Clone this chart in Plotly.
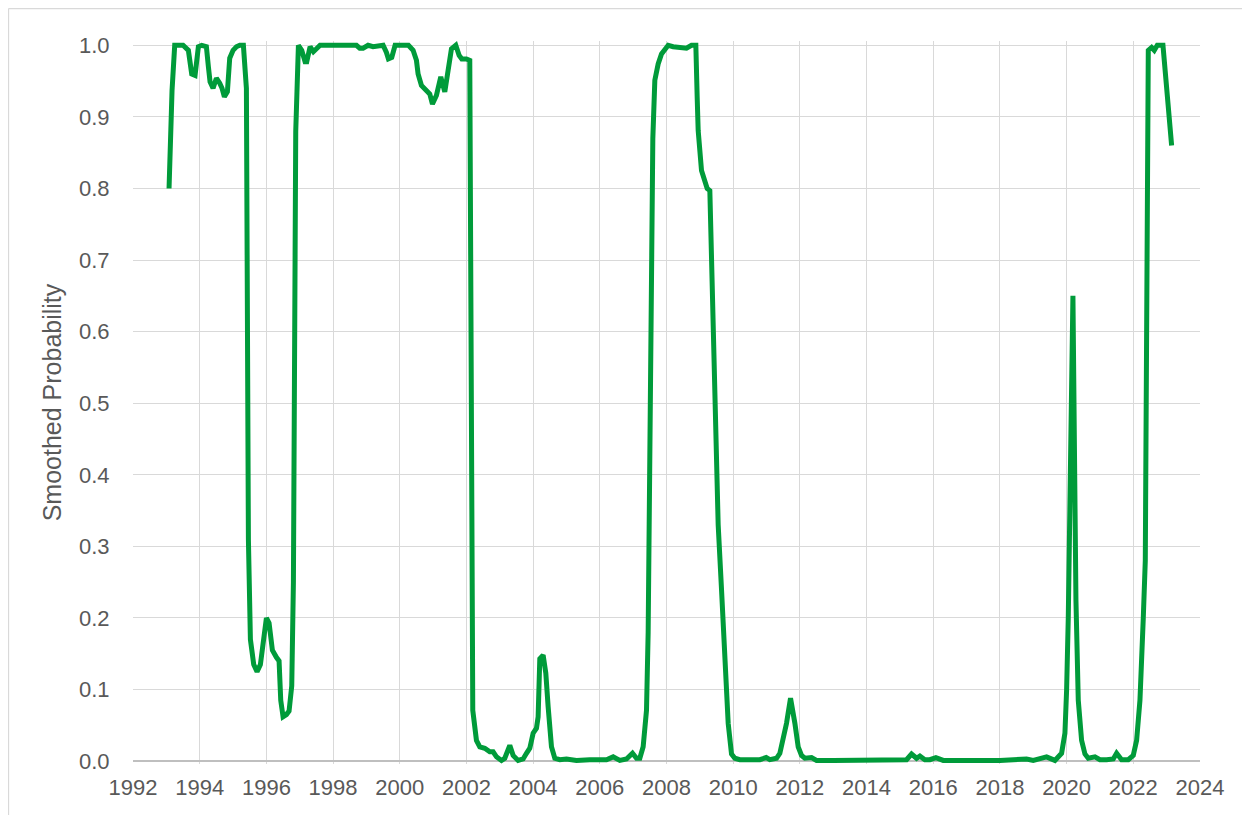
import plotly.graph_objects as go

# Decimal-year positions and smoothed probability values
dates = [
    1993.08, 1993.17, 1993.25, 1993.50, 1993.66, 1993.71, 1993.76, 1993.86, 1993.96,
    1994.06, 1994.20, 1994.26, 1994.31, 1994.40, 1994.50, 1994.60, 1994.67, 1994.74,
    1994.83, 1994.90, 1995.00, 1995.10, 1995.20, 1995.31, 1995.40, 1995.46, 1995.52,
    1995.62, 1995.72, 1995.82, 1995.95, 1996.00, 1996.08, 1996.18, 1996.30, 1996.38,
    1996.43, 1996.50, 1996.60, 1996.68, 1996.76, 1996.81, 1996.88, 1996.96,
    1997.06, 1997.16, 1997.21, 1997.31, 1997.41, 1997.50, 1997.61, 1998.70, 1998.80,
    1998.90, 1999.05, 1999.20, 1999.36, 1999.50, 1999.60, 1999.66, 1999.76, 1999.86,
    2000.26, 2000.40, 2000.50, 2000.55, 2000.65, 2000.80, 2000.90, 2000.98, 2001.10,
    2001.23, 2001.35, 2001.45, 2001.55, 2001.68, 2001.78, 2001.86, 2002.00, 2002.10,
    2002.15, 2002.19, 2002.30, 2002.40, 2002.55, 2002.70, 2002.80, 2002.90, 2003.05,
    2003.15, 2003.30, 2003.40, 2003.55, 2003.70, 2003.80, 2003.90, 2004.00, 2004.10,
    2004.15, 2004.20, 2004.30, 2004.38, 2004.45, 2004.55, 2004.65, 2004.80, 2005.00,
    2005.30, 2005.70, 2006.00, 2006.20, 2006.40, 2006.60, 2006.80, 2006.98, 2007.10,
    2007.20, 2007.30, 2007.40, 2007.45, 2007.50, 2007.59, 2007.65, 2007.75, 2007.85,
    2007.95, 2008.05, 2008.20, 2008.40, 2008.60, 2008.75, 2008.88, 2008.92, 2008.95,
    2009.05, 2009.15, 2009.22, 2009.30, 2009.40, 2009.50, 2009.55, 2009.65, 2009.75,
    2009.85, 2009.95, 2010.05, 2010.20, 2010.50, 2010.80, 2010.99, 2011.10, 2011.30,
    2011.40, 2011.60, 2011.72, 2011.85, 2011.95, 2012.05, 2012.15, 2012.35, 2012.50,
    2013.00, 2014.00, 2015.00, 2015.20, 2015.35, 2015.50, 2015.60, 2015.75, 2015.90,
    2016.08, 2016.30, 2017.00, 2018.00, 2018.80, 2019.00, 2019.40, 2019.65, 2019.85,
    2019.95, 2020.00, 2020.05, 2020.19, 2020.28, 2020.35, 2020.45, 2020.55, 2020.65,
    2020.85, 2021.00, 2021.20, 2021.40, 2021.50, 2021.65, 2021.85, 2022.00, 2022.10,
    2022.20, 2022.30, 2022.36, 2022.45, 2022.55, 2022.63, 2022.72, 2022.89, 2023.00,
    2023.08, 2023.15,
]

probability = [
    0.800, 0.937, 1.000, 1.000, 0.993, 0.975, 0.960, 0.958, 0.998,
    1.000, 0.998, 0.970, 0.949, 0.940, 0.954, 0.947, 0.940, 0.928,
    0.935, 0.982, 0.993, 0.998, 1.000, 1.000, 0.940, 0.310, 0.170,
    0.135, 0.125, 0.135, 0.190, 0.200, 0.193, 0.155, 0.145, 0.140,
    0.085, 0.062, 0.065, 0.070, 0.105, 0.250, 0.880, 1.000,
    0.993, 0.977, 0.977, 0.998, 0.991, 0.995, 1.000, 1.000, 0.996,
    0.996, 1.000, 0.998, 1.000, 1.000, 0.990, 0.981, 0.983, 1.000,
    1.000, 0.993, 0.979, 0.960, 0.944, 0.937, 0.932, 0.918, 0.930,
    0.956, 0.935, 0.965, 0.995, 1.000, 0.986, 0.981, 0.981, 0.979,
    0.220, 0.071, 0.029, 0.020, 0.018, 0.013, 0.013, 0.006, 0.001,
    0.004, 0.022, 0.008, 0.001, 0.003, 0.011, 0.018, 0.039, 0.046,
    0.062, 0.143, 0.148, 0.123, 0.076, 0.020, 0.004, 0.002, 0.003,
    0.001, 0.002, 0.001, 0.002, 0.006, 0.001, 0.003, 0.011, 0.004,
    0.004, 0.020, 0.071, 0.180, 0.500, 0.870, 0.951, 0.974, 0.988,
    0.993, 1.000, 0.998, 0.997, 0.996, 1.000, 1.000, 0.928, 0.881,
    0.825, 0.807, 0.800, 0.797, 0.620, 0.410, 0.330, 0.240, 0.135,
    0.053, 0.010, 0.004, 0.002, 0.002, 0.002, 0.005, 0.002, 0.004,
    0.011, 0.053, 0.088, 0.053, 0.020, 0.008, 0.004, 0.005, 0.001,
    0.001, 0.001, 0.001, 0.002, 0.010, 0.004, 0.007, 0.002, 0.002,
    0.005, 0.001, 0.001, 0.001, 0.003, 0.001, 0.006, 0.001, 0.011,
    0.039, 0.099, 0.200, 0.650, 0.225, 0.085, 0.029, 0.010, 0.004,
    0.006, 0.002, 0.002, 0.003, 0.011, 0.002, 0.002, 0.008, 0.029,
    0.085, 0.200, 0.280, 0.993, 0.997, 0.993, 1.000, 1.000, 0.937,
    0.895, 0.860,
]

x_ticks = list(range(1992, 2025, 2))
y_ticks = [i / 10 for i in range(11)]

FONT = "Liberation Sans, Arial, sans-serif"
TEXT = "#595959"
GRID = "#D9D9D9"

fig = go.Figure()
fig.add_trace(go.Scatter(
    x=dates, y=probability, mode="lines",
    line=dict(color="#009B3A", width=5),
    hoverinfo="x+y", showlegend=False,
))

W, H = 1242, 807
ML, MR, MT, MB = 125, 50, 33, 51
fig.update_layout(
    width=W, height=H,
    margin=dict(l=ML, r=MR, t=MT, b=MB, autoexpand=False),
    paper_bgcolor="white", plot_bgcolor="white",
    font=dict(family=FONT, size=22, color=TEXT),
    showlegend=False,
)
fig.update_xaxes(
    range=[1991.999, 2024.001], tickvals=x_ticks,
    ticktext=[str(v) for v in x_ticks],
    showgrid=True, gridcolor=GRID, gridwidth=1.4,
    showline=False, zeroline=False,
    ticks="outside", ticklen=4, tickcolor="rgba(0,0,0,0)",
    tickfont=dict(family=FONT, size=22, color=TEXT),
)
fig.update_yaxes(
    range=[-0.004, 1.006], tickvals=y_ticks, tickformat=".1f",
    showgrid=True, gridcolor=GRID, gridwidth=1.4,
    zeroline=True, zerolinecolor="#BFBFBF", zerolinewidth=1.5,
    showline=False,
    ticks="outside", ticklen=18, tickcolor="rgba(0,0,0,0)",
    tickfont=dict(family=FONT, size=22, color=TEXT),
    title=dict(text="Smoothed Probability", standoff=10,
               font=dict(family=FONT, size=25, color=TEXT)),
)

# light chart-area frame (left and top edges visible in the picture)
pw, ph = W - ML - MR, H - MT - MB
fx = (0.5 - ML) / pw
fy = (H - MB - 0.5) / ph
fig.add_shape(type="line", xref="paper", yref="paper", x0=fx, x1=fx, y0=fy, y1=-0.2,
              line=dict(color=GRID, width=1.3))
fig.add_shape(type="line", xref="paper", yref="paper", x0=fx, x1=1.2, y0=fy, y1=fy,
              line=dict(color=GRID, width=1.3))

fig.write_html("out.html")
